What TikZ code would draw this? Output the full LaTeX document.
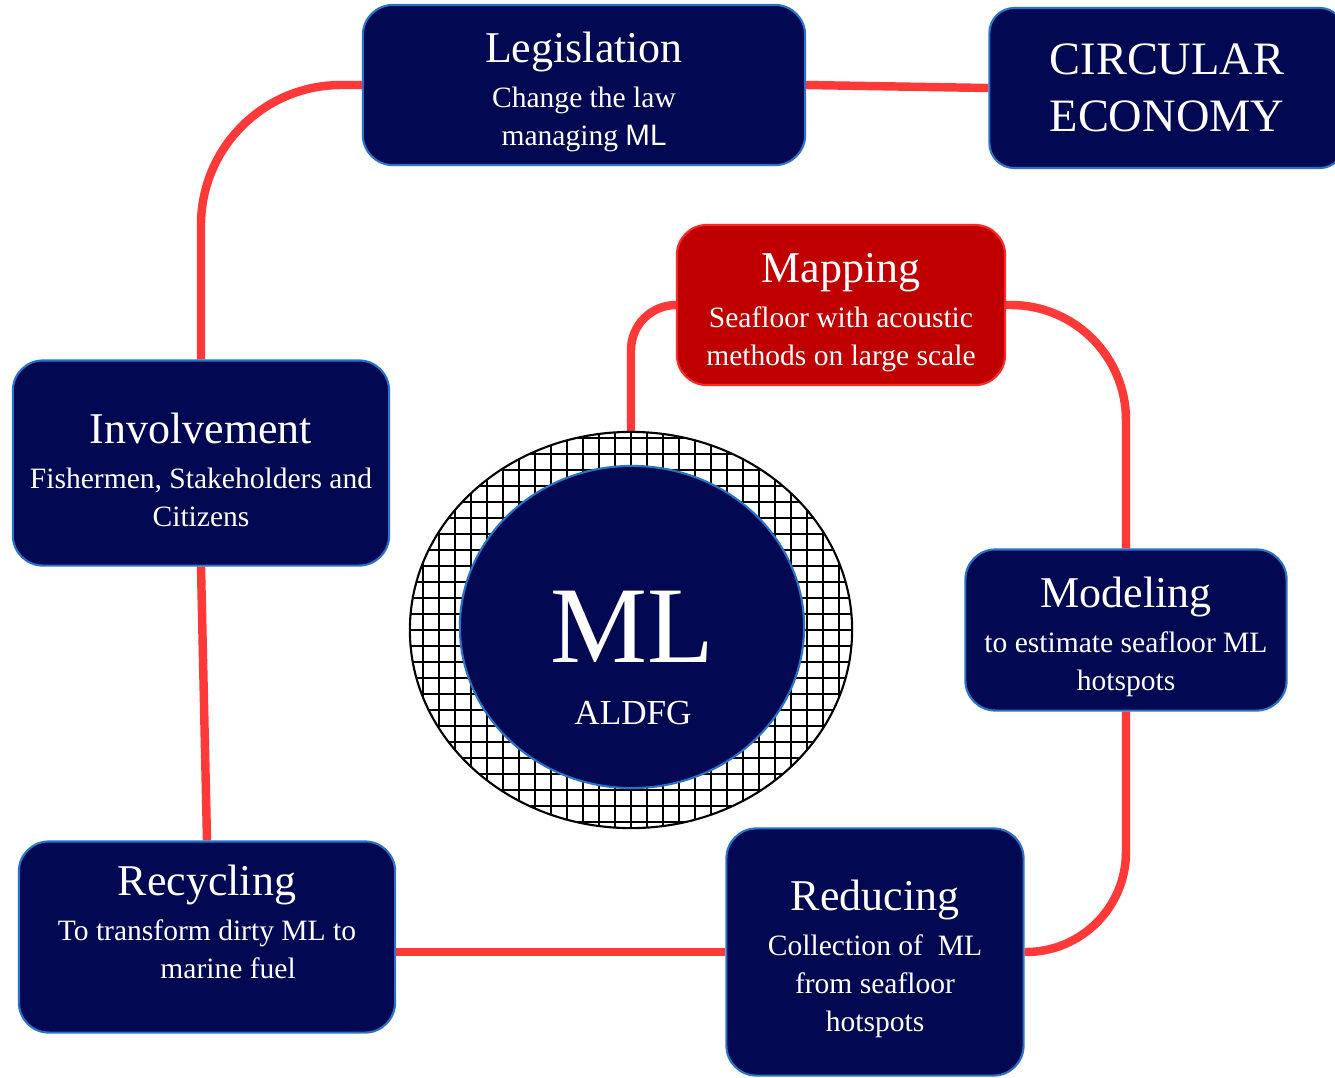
\documentclass[tikz,border=0pt]{standalone}
\usepackage{fontspec}
\setmainfont{Liberation Serif}
\setsansfont{Liberation Sans}
\usetikzlibrary{shapes,backgrounds}

\definecolor{navy}{RGB}{3,8,82}
\definecolor{rim}{RGB}{40,115,200}
\definecolor{linkred}{RGB}{255,56,56}
\definecolor{mapred}{RGB}{192,0,0}
\definecolor{maprim}{RGB}{255,40,40}

\newcommand\stagetitle[1]{{\fontsize{12.5}{15}\selectfont\rule{0pt}{12.5pt}#1}}

\begin{document}
\begin{tikzpicture}[
  x=0.01cm,y=-0.01cm,
  every node/.style={align=center,text=white,inner sep=0pt},
  stage/.style={draw=rim,semithick,rounded corners=0.3cm,fill=navy,font=\fontsize{8.4}{10.8}\selectfont},
  mapstage/.style={stage,draw=maprim,fill=mapred},
  hub/.style={stage,rounded corners=0.25cm,font=\fontsize{13.2}{16.2}\selectfont},
  ring/.style={ellipse,draw=black,semithick,path picture={
      \draw[black,line width=0.55pt,step=0.16cm] (path picture bounding box.south west) grid (path picture bounding box.north east);}},
  core/.style={ellipse,draw=rim,semithick,fill=navy,font=\fontsize{31}{31}\selectfont},
  link/.style={draw=linkred,line width=2.4pt}]

  \useasboundingbox (0,0) rectangle (1335,1078);

  % Position the nodes
  \node[stage,minimum width=4.42cm,minimum height=1.6cm] (leg) at (584,85)
    {\stagetitle{Legislation}\\[2pt] Change the law\\ managing {\sffamily ML}};
  \node[hub,minimum width=3.55cm,minimum height=1.6cm] (circ) at (1167,88)
    {CIRCULAR\\ECONOMY};
  \node[mapstage,minimum width=3.28cm,minimum height=1.6cm] (map) at (841,305)
    {\stagetitle{Mapping}\\[2pt] Seafloor with acoustic\\ methods on large scale};
  \node[stage,minimum width=3.76cm,minimum height=2.05cm] (inv) at (201,463)
    {\stagetitle{Involvement}\\[2pt] Fishermen, Stakeholders and\\ Citizens};
  \node[stage,minimum width=3.21cm,minimum height=1.61cm] (mod) at (1126,630)
    {\stagetitle{Modeling}\\[2pt] to estimate seafloor ML\\ hotspots};
  \node[stage,minimum width=2.97cm,minimum height=2.47cm] (red) at (875,952)
    {\stagetitle{Reducing}\\[2pt] Collection of\enspace ML\\ from seafloor\\ hotspots};
  \node[stage,minimum width=3.76cm,minimum height=1.91cm] (rec) at (207,937)
    {\stagetitle{Recycling}\\[2pt] To transform dirty ML to\\ \hspace*{12pt}marine fuel\\[1.5pt]};

  \node[ring,minimum width=4.42cm,minimum height=3.96cm] (ml) at (631,630) {};
  \node[core,minimum width=3.44cm,minimum height=3.22cm] (core) at (632,627) {ML};
  \node[font=\fontsize{10}{12}\selectfont] (aldfg) at (633,713) {ALDFG};

  % Draw the links between the nodes
  \begin{scope}[on background layer]
    \draw[link] (leg.east) -- (circ.west);
    \draw[link,rounded corners=1.4cm] (leg.west) -| (inv.north);
    \draw[link] (inv.south) -- (rec.north);
    \draw[link] (red.west) -- (rec.east |- red.west);
    \draw[link,rounded corners=1cm] (red.east) -| (mod.south);
    \draw[link,rounded corners=1.15cm] (mod.north) |- (map.east);
    \draw[link,rounded corners=0.45cm] (map.west) -| (ml.north);
  \end{scope}

\end{tikzpicture}
\end{document}
